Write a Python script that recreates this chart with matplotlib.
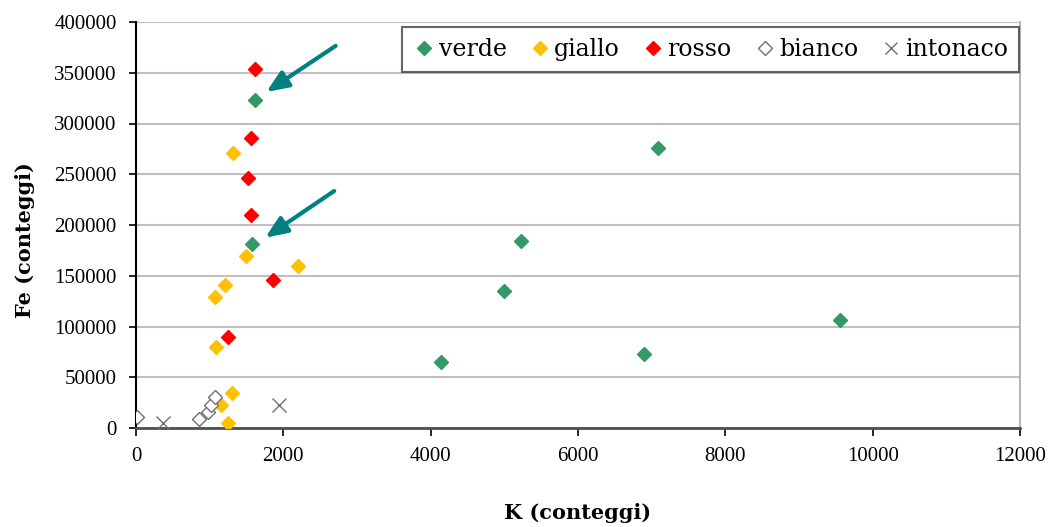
import matplotlib.pyplot as plt
from matplotlib.lines import Line2D

# K and Fe counts per pigment colour
verde_k = [1620, 1580, 7080, 5220, 4990, 4140, 6890, 9560]
verde_fe = [323000, 181500, 276000, 184500, 135000, 65500, 73000, 106500]

giallo_k = [1320, 1490, 2200, 1210, 1070, 1085, 1305, 1160, 1245]
giallo_fe = [271000, 169500, 159500, 141000, 129000, 80000, 34000, 22700, 5000]

rosso_k = [1615, 1560, 1520, 1560, 1860, 1245]
rosso_fe = [354000, 286000, 246500, 210000, 145800, 89700]

bianco_k = [10, 860, 975, 1020, 1070]
bianco_fe = [11000, 8800, 16000, 23000, 31000]

intonaco_k = [360, 1945]
intonaco_fe = [4600, 22700]

# arrows pointing at the two highlighted green samples: (tail, head)
arrows = [((2710, 376500), (1770, 331000)),
          ((2690, 233500), (1755, 187500))]

fig = plt.figure(figsize=(10.48, 5.27), dpi=100)
ax = fig.add_axes([136 / 1048, 1 - 428 / 527, (1020 - 136) / 1048, (428 - 22) / 527])

ms = 7.6
ax.plot(verde_k, verde_fe, 'D', ms=ms, color='#339966', mec='#339966', ls='none', zorder=3)
ax.plot(giallo_k, giallo_fe, 'D', ms=ms, color='#FFC000', mec='#FFC000', ls='none', zorder=3)
ax.plot(rosso_k, rosso_fe, 'D', ms=ms, color='#FF0000', mec='#FF0000', ls='none', zorder=3)
ax.plot(bianco_k, bianco_fe, 'D', ms=ms, mfc='white', mec='#707070', mew=1.0, ls='none', zorder=3)
ax.plot(intonaco_k, intonaco_fe, 'x', ms=10, color='#707070', mew=1.0, ls='none', zorder=3)

for tail, head in arrows:
    ax.annotate('', xy=head, xytext=tail,
                arrowprops=dict(arrowstyle='-|>,head_length=0.6,head_width=0.25', lw=3,
                                color='#008080', mutation_scale=22,
                                shrinkA=0, shrinkB=0),
                zorder=4)

ax.set_xlim(0, 12000)
ax.set_ylim(0, 400000)
ax.set_xticks(range(0, 12001, 2000))
ax.set_yticks(range(0, 400001, 50000))
ax.yaxis.grid(True, color='#c0c0c0', lw=1.5)
ax.set_axisbelow(True)

for lab in ax.get_xticklabels() + ax.get_yticklabels():
    lab.set_family('Liberation Serif')
    lab.set_fontsize(15)
ax.tick_params(axis='y', direction='out', length=5, width=1.2, pad=9)
ax.tick_params(axis='x', direction='out', length=6, width=1.2, pad=8)

ax.spines['left'].set_color('black')
ax.spines['left'].set_linewidth(1.5)
ax.spines['bottom'].set_color('#505050')
ax.spines['bottom'].set_linewidth(2)
ax.spines['top'].set_visible(False)
ax.spines['right'].set_color('#a8a8a8')
ax.spines['right'].set_linewidth(1.2)

label_font = dict(family='DejaVu Serif', fontsize=15, fontweight='bold')
fig.text(578 / 1048, 1 - 513 / 527, 'K (conteggi)', ha='center', va='center', **label_font)
fig.text(25 / 1048, 1 - 240 / 527, 'Fe (conteggi)', ha='center', va='center',
         rotation=90, **label_font)

handles = [
    Line2D([], [], marker='D', ls='none', ms=7, color='#339966'),
    Line2D([], [], marker='D', ls='none', ms=7, color='#FFC000'),
    Line2D([], [], marker='D', ls='none', ms=7, color='#FF0000'),
    Line2D([], [], marker='D', ls='none', ms=7, mfc='white', mec='#707070', mew=1.0),
    Line2D([], [], marker='x', ls='none', ms=9, color='#707070', mew=1.0),
]
names = ['verde', 'giallo', 'rosso', 'bianco', 'intonaco']
leg = fig.legend(handles, names, ncol=5, loc='center', mode='expand',
                 bbox_to_anchor=(402 / 1048, 1 - 74 / 527, (1019 - 402) / 1048, 49 / 527),
                 prop=dict(family='DejaVu Serif', size=17),
                 frameon=True, fancybox=False, edgecolor='#404040',
                 handletextpad=0.1, columnspacing=0.8, handlelength=1.0,
                 borderpad=0.45, borderaxespad=0)
leg.get_frame().set_linewidth(1.5)

fig.savefig('out.png', dpi=100)
